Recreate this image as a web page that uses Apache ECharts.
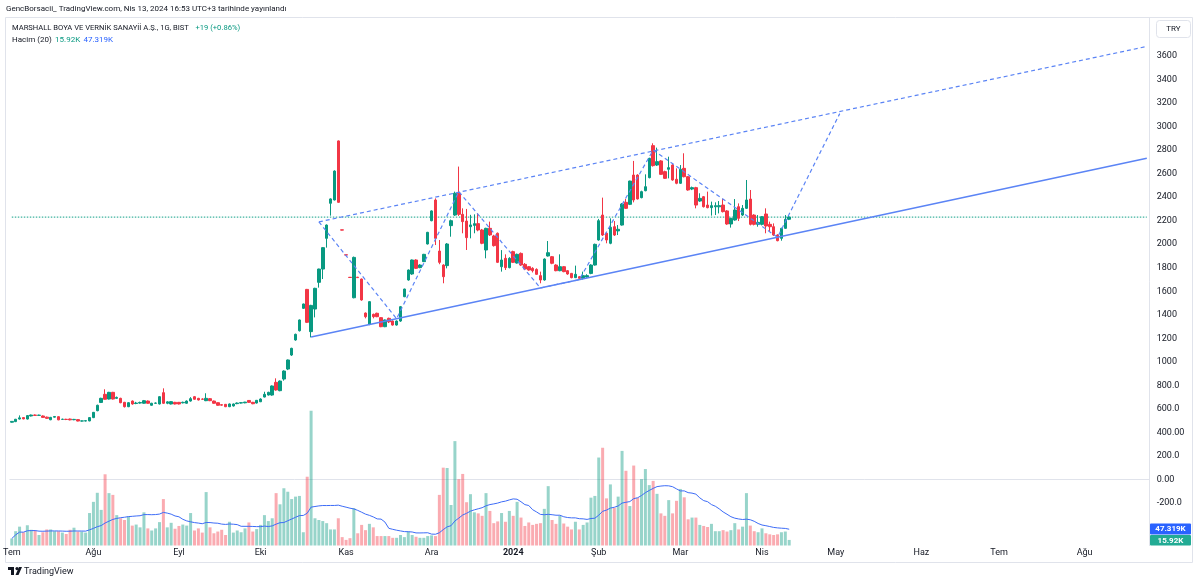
<!DOCTYPE html>
<html><head><meta charset="utf-8">
<script src="https://cdn.jsdelivr.net/npm/echarts@6/dist/echarts.min.js"></script>
<style>html,body{margin:0;padding:0;background:#fff}#c{width:1200px;height:583px}</style>
</head><body><div id="c"></div>
<script>
// ---------- DATA ----------
const firstDate = '2023-07-03';
const holidays = ['2023-08-30','2024-01-01','2024-04-11','2024-04-12','2024-04-23','2024-05-01','2024-07-15','2024-08-30'];
const slotCount = 293; // trading days incl. future empty space
const monthNames = ['Oca','Şub','Mar','Nis','May','Haz','Tem','Ağu','Eyl','Eki','Kas','Ara'];

const opens = [487,492,514,526,514,540,548,545,540,530,508,530,534,511,512,514,508,509,497,497,
498,526,585,655,724,684,741,690,690,656,619,667,646,650,648,667,631,648,642,738,
648,642,656,656,652,648,667,704,690,684,670,687,667,653,636,639,619,625,645,650,
652,672,656,650,661,701,718,718,826,755,854,939,1058,1186,1265,1455,1616,1257,1449,1676,
1789,2050,2348,2376,2878,2122,1910,1719,1545,1720,1704,1415,1319,1404,1413,1376,1299,1370,1347,1313,
1347,1554,1696,1747,1866,1801,1852,2002,2200,2376,1942,1823,1818,2158,2248,2433,2254,2197,2149,2160,
2175,2121,1951,2135,2070,2093,1809,1880,1801,1937,1840,1922,1829,1809,1795,1786,1733,1696,1900,1894,
1823,1775,1809,1775,1752,1716,1724,1710,1721,1752,1823,2036,2248,2093,2008,2149,2113,2163,2356,2339,
2588,2588,2396,2455,2566,2838,2673,2708,2617,2637,2673,2552,2518,2645,2574,2469,2481,2367,2404,2333,
2311,2318,2318,2333,2283,2172,2206,2319,2248,2305,2384,2248,2169,2169,2257,2169,2149,2078,2050,2135,
2212];
const highs = [497,515,545,530,548,552,553,551,545,535,532,540,538,517,516,518,515,512,501,503,
530,574,636,695,767,745,745,705,695,660,657,672,660,662,676,672,652,655,708,775,
665,666,660,659,662,672,700,710,694,690,733,692,671,656,640,642,646,646,655,658,
660,675,660,676,690,746,746,800,860,842,928,1020,1120,1240,1360,1495,1620,1485,1630,1792,
1975,2168,2390,2628,2882,2122,1910,1719,1895,1722,1708,1420,1515,1410,1418,1380,1360,1376,1352,1352,
1475,1622,1785,1870,1872,1830,1918,2105,2288,2390,2036,1830,2010,2210,2447,2660,2305,2300,2250,2254,
2262,2130,2140,2192,2080,2100,1950,1914,1890,1945,1920,1930,1840,1815,1805,1795,1767,1880,2027,1900,
1830,1914,1815,1780,1756,1818,1730,1767,1745,1830,2005,2215,2396,2100,2220,2197,2163,2350,2385,2540,
2708,2595,2455,2594,2735,2858,2821,2715,2625,2744,2680,2645,2673,2773,2580,2490,2488,2433,2410,2447,
2362,2356,2367,2384,2290,2225,2384,2347,2333,2546,2461,2255,2248,2240,2305,2192,2177,2085,2140,2248,
2248];
const lows = [484,488,510,512,510,536,541,540,525,515,504,527,504,506,505,503,504,494,493,494,
495,522,580,650,680,680,680,685,648,612,615,636,640,645,644,644,628,643,638,642,
640,638,638,638,647,644,662,678,672,677,666,666,644,627,627,615,615,620,640,646,
648,652,640,646,658,698,714,712,755,750,840,930,1050,1180,1258,1450,1330,1208,1378,1631,
1704,1971,2243,2372,2352,2118,1906,1715,1540,1714,1520,1370,1312,1370,1380,1295,1295,1330,1308,1308,
1340,1550,1690,1740,1790,1796,1848,1998,2195,1993,1830,1668,1795,2064,2240,2240,2093,1951,2050,2093,
2110,2000,1880,2070,1980,1840,1767,1781,1795,1840,1835,1815,1780,1775,1760,1740,1668,1690,1895,1830,
1770,1770,1762,1740,1710,1712,1696,1700,1715,1745,1818,2030,2070,2008,2000,2070,2078,2158,2300,2333,
2356,2380,2390,2450,2560,2660,2665,2590,2555,2560,2540,2510,2512,2568,2455,2460,2305,2360,2312,2305,
2243,2248,2262,2270,2165,2141,2200,2197,2240,2300,2160,2160,2149,2160,2093,2107,2070,2025,2030,2130,
2205];
const closes = [494,512,524,515,543,548,545,547,528,520,528,535,507,512,510,507,511,497,498,500,
526,571,631,690,682,741,684,698,653,619,653,642,650,654,670,648,648,650,704,648,
660,662,642,642,656,667,687,682,676,682,690,670,648,631,632,619,642,642,650,653,
658,656,644,673,684,724,741,795,761,837,922,1016,1115,1234,1356,1492,1336,1480,1625,1789,
1971,2163,2385,2622,2356,2120,1908,1717,1888,1716,1526,1384,1512,1384,1384,1299,1356,1340,1313,1347,
1469,1619,1781,1866,1795,1823,1914,2101,2283,2050,1846,1724,2002,2200,2433,2254,2192,2056,2164,2175,
2121,2008,2135,2079,1988,1846,1866,1801,1880,1846,1914,1823,1789,1781,1775,1744,1696,1874,1928,1838,
1775,1809,1767,1747,1716,1744,1710,1733,1733,1823,1999,2200,2078,2036,2144,2078,2127,2342,2305,2537,
2376,2385,2447,2489,2730,2668,2702,2594,2560,2651,2546,2518,2637,2574,2461,2481,2333,2390,2319,2311,
2328,2328,2328,2277,2172,2220,2291,2220,2305,2376,2169,2169,2186,2234,2155,2149,2078,2030,2135,2212,
2231];
const volumesK = [20,41,54,38,58,45,43,30,38,46,46,41,41,37,33,45,51,40,40,37,
93,125,151,102,204,150,145,87,78,73,83,57,60,52,95,49,43,49,67,133,
52,65,48,56,60,57,93,43,49,37,153,52,35,40,45,30,68,37,43,38,
49,66,40,47,59,87,70,78,150,118,164,154,133,140,142,38,197,386,78,73,
70,64,46,46,78,24,16,21,107,35,59,44,62,52,27,27,27,27,22,22,
30,24,40,30,25,22,22,27,29,27,145,223,222,116,299,190,205,124,147,95,
92,85,150,99,64,69,93,68,99,85,125,80,56,66,59,62,64,105,170,73,
62,85,63,54,46,68,46,59,66,137,142,252,280,135,175,108,140,271,214,113,
229,137,190,219,173,185,148,92,85,130,92,128,162,138,75,80,80,59,56,53,
62,41,41,44,40,44,64,46,54,150,57,41,38,49,35,32,30,32,38,40,
15.92];
const maLength = 20;

const priceTicks = [3600,3400,3200,3000,2800,2600,2400,2200,2000,1800,1600,1400,1200,1000,800,600,400,200,0,-200];
const priceTickLabels = ['3600','3400','3200','3000','2800','2600','2400','2200','2000','1800','1600','1400','1200','1000','800.0','600.0','400.00','200.0','0.00','-200.0'];

// drawings: [bar number, price]
const channelLower = [[77,1211],[292,2731]];
const channelUpper = [[79,2190],[292,3681]];
const zigzag = [[79,2190],[99,1367],[115,2447],[136,1628],[146,1699],[165,2800],[197,2059],[213,3110]];
const lastClose = 2231;

const headerText = 'GencBorsacii_ TradingView.com, Nis 13, 2024 16:53 UTC+3 tarihinde yayınlandı';
const titleText = 'MARSHALL BOYA VE VERNİK SANAYİİ A.Ş., 1G, BIST';
const changeText = '+19 (+0.86%)';
const volTitle = 'Hacim (20)';
const volLast = '15.92K';
const volMa = '47.319K';

// ---------- BUILD ----------
const UP = '#089981', DOWN = '#f23645';
const VUP = 'rgba(8,153,129,0.42)', VDOWN = 'rgba(242,54,69,0.42)';
const LINE = '#5b84f5';

const dates = [];
(function(){
  const p = firstDate.split('-').map(Number);
  const d = new Date(Date.UTC(p[0], p[1]-1, p[2]));
  while (dates.length < slotCount) {
    const wd = d.getUTCDay();
    const s = d.toISOString().slice(0,10);
    if (wd !== 0 && wd !== 6 && holidays.indexOf(s) < 0) dates.push(s);
    d.setUTCDate(d.getUTCDate()+1);
  }
})();
const monthStart = dates.map((s,i)=> i===0 || s.slice(0,7) !== dates[i-1].slice(0,7));

const candleData = opens.map((o,i)=>[o, closes[i], lows[i], highs[i]]);
const volData = volumesK.map((v,i)=>({value:v, itemStyle:{color: closes[i]>=opens[i]?VUP:VDOWN}}));
const maData = volumesK.map((v,i)=>{
  const s = Math.max(0, i-maLength+1);
  const w = volumesK.slice(s, i+1);
  return +(w.reduce((a,b)=>a+b,0)/w.length).toFixed(2);
});
const lastPriceLine = [[0, lastClose], [slotCount-1, lastClose]];

const FONT = 'Roboto, "Open Sans", sans-serif';
const chart = echarts.init(document.getElementById('c'), null, {renderer:'canvas'});
const gridTop = 18, gridBottomY = 545.5, gridLeft = 6.05, gridRightX = 1148.75;

const lineSeries = (data, color, type, width, z) => ({
  type:'line', data, xAxisIndex:0, yAxisIndex:0, symbol:'none', silent:true, z:z||10,
  lineStyle:{color, width, type}, animation:false
});

chart.setOption({
  animation:false,
  backgroundColor:'#ffffff',
  grid:{left:gridLeft, right:1200-gridRightX, top:gridTop, bottom:583-gridBottomY},
  xAxis:{
    type:'category', data:dates, boundaryGap:true,
    axisLine:{show:true, lineStyle:{color:'#e0e3eb'}},
    axisTick:{show:false},
    splitLine:{show:false},
    axisLabel:{
      interval:(idx)=>monthStart[idx],
      formatter:(val)=>{
        const m = +val.slice(5,7)-1;
        return m===0 ? '{y|'+val.slice(0,4)+'}' : monthNames[m];
      },
      color:'#131722', fontSize:9, fontFamily:FONT, margin:3,
      rich:{y:{fontWeight:'bold', fontSize:9, color:'#131722', fontFamily:FONT}}
    }
  },
  yAxis:[
    {type:'value', position:'right', min:-561, max:3923, scale:false,
     axisLine:{show:true, lineStyle:{color:'#e0e3eb'}}, axisTick:{show:false}, splitLine:{show:false},
     axisLabel:{customValues:priceTicks, margin:8, color:'#131722', fontSize:9, fontFamily:FONT,
       formatter:(v)=>{const k=priceTicks.indexOf(v); return k>=0?priceTickLabels[k]:'';}}},
    {type:'value', min:0, max:1511, show:false, splitLine:{show:false}}
  ],
  series:[
    {type:'bar', name:'Hacim', data:volData, xAxisIndex:0, yAxisIndex:1, barWidth:3, z:1, silent:true},
    {type:'line', name:'MA', data:maData, xAxisIndex:0, yAxisIndex:1, symbol:'none', z:2, silent:true,
     lineStyle:{color:'#3d6cf7', width:1}},
    lineSeries(lastPriceLine, '#3fb39f', [1.5,1.5], 1.2, 4),
    {type:'candlestick', data:candleData, xAxisIndex:0, yAxisIndex:0, barWidth:3, z:5,
     itemStyle:{color:UP, color0:DOWN, borderColor:UP, borderColor0:DOWN, borderWidth:1}},
    lineSeries(channelLower, LINE, 'solid', 1.5),
    lineSeries(channelUpper, LINE, [4,3], 1.2),
    lineSeries(zigzag, LINE, [4,3], 1.2)
  ],
  graphic:[
    {type:'rect', silent:true, shape:{x:5.5, y:17.5, width:1187, height:545}, style:{fill:'none', stroke:'#e0e3eb', lineWidth:1}},
    {type:'text', left:6, top:5, style:{text:headerText, fill:'#131722', font:'8px '+FONT}},
    {type:'text', left:12, top:22, style:{
      text:'{a|'+titleText+'}  {b|'+changeText+'}',
      rich:{a:{fill:'#131722', font:'7.6px '+FONT}, b:{fill:UP, font:'7.6px '+FONT}}}},
    {type:'text', left:12, top:34, style:{
      text:'{a|'+volTitle+'} {b|'+volLast+'} {c|'+volMa+'}',
      rich:{a:{fill:'#131722', font:'8px '+FONT}, b:{fill:UP, font:'8px '+FONT}, c:{fill:'#2962ff', font:'8px '+FONT}}}},
    {type:'rect', silent:true, shape:{x:1156.5, y:20.5, width:34, height:17, r:3}, style:{fill:'#fff', stroke:'#e0e3eb'}},
    {type:'text', x:1173.5, y:29, style:{text:'TRY', fill:'#131722', font:'8px '+FONT, align:'center', verticalAlign:'middle'}},
    {type:'rect', silent:true, shape:{x:1150, y:523.5, width:41, height:11, r:1}, style:{fill:'#2962ff'}},
    {type:'text', x:1170.5, y:529.2, style:{text:volMa, fill:'#fff', font:'bold 8px '+FONT, align:'center', verticalAlign:'middle'}},
    {type:'rect', silent:true, shape:{x:1150, y:535, width:41, height:10.5, r:1}, style:{fill:'#22ab94'}},
    {type:'text', x:1170.5, y:541, style:{text:volLast, fill:'#fff', font:'bold 8px '+FONT, align:'center', verticalAlign:'middle'}},
    {type:'group', left:8, top:567, silent:true, children:[
      {type:'rect', shape:{x:0, y:0, width:6, height:3}, style:{fill:'#131722'}},
      {type:'rect', shape:{x:3, y:0, width:3, height:8}, style:{fill:'#131722'}},
      {type:'circle', shape:{cx:9, cy:1.6, r:1.6}, style:{fill:'#131722'}},
      {type:'polygon', shape:{points:[[11,0],[14,0],[10.5,8],[7.5,8]]}, style:{fill:'#131722'}}
    ]},
    {type:'text', left:24, top:567, style:{text:'TradingView', fill:'#131722', font:'9px '+FONT}}
  ]
});
</script>
</body></html>
